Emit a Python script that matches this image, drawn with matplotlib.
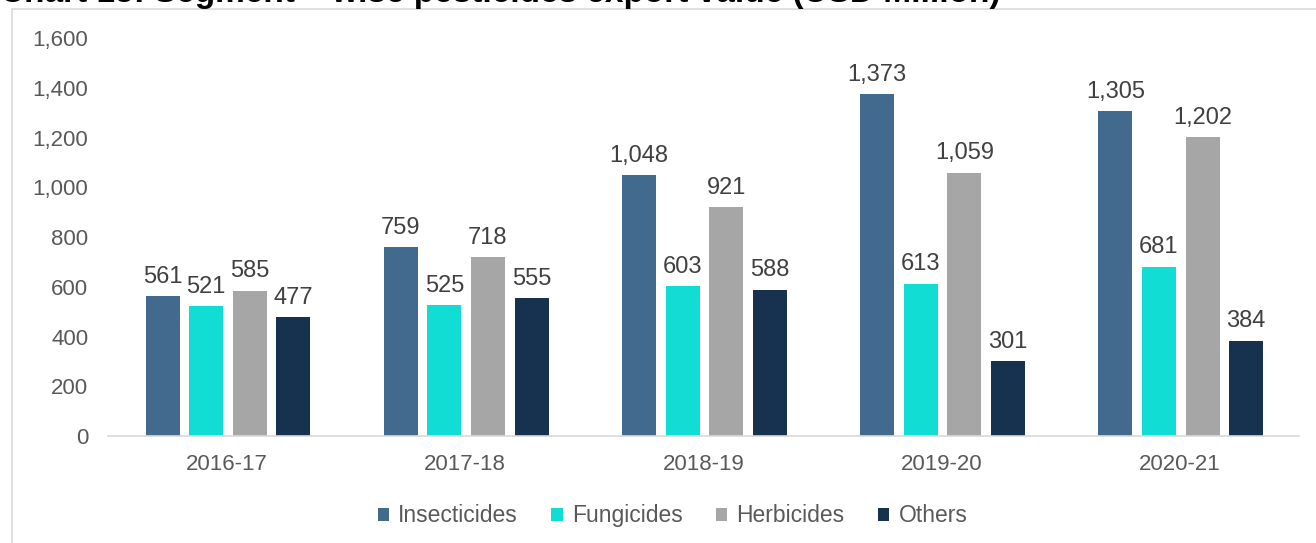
import matplotlib.pyplot as plt
import numpy as np
from matplotlib.patches import Rectangle

plt.rcParams['font.family'] = ['Liberation Sans', 'DejaVu Sans']

years = ["2016-17", "2017-18", "2018-19", "2019-20", "2020-21"]
insecticides = [561, 759, 1048, 1373, 1305]
fungicides = [521, 525, 603, 613, 681]
herbicides = [585, 718, 921, 1059, 1202]
others = [477, 555, 588, 301, 384]

series = [("Insecticides", insecticides, "#416A8E"),
          ("Fungicides", fungicides, "#12DDD4"),
          ("Herbicides", herbicides, "#A6A6A6"),
          ("Others", others, "#17324F")]

fig = plt.figure(figsize=(13.16, 5.43), dpi=100)
ax = fig.add_axes([0.082, 0.197, 0.905, 0.733])

# chart frame
fig.patches.append(Rectangle((12/1316, -0.01), 1.1, 1 - 9/543 + 0.01, transform=fig.transFigure,
                             fill=False, edgecolor="#D9D9D9", linewidth=1.2))

x = np.arange(len(years))
pitch = 0.183
w = 0.143
for i, (name, vals, col) in enumerate(series):
    pos = x + (i - 1.5) * pitch + 0.004
    bars = ax.bar(pos, vals, width=w, color=col, label=name, zorder=2)
    for b, v in zip(bars, vals):
        ax.annotate(f"{v:,}", (b.get_x() + b.get_width() / 2, v), xytext=(0, 6),
                    textcoords="offset points", ha="center", va="bottom",
                    fontsize=17, color="#404040")

ax.set_xlim(-0.5, len(years) - 0.5)
ax.set_ylim(0, 1600)
ax.set_yticks(range(0, 1601, 200))
ax.yaxis.set_major_formatter(plt.FuncFormatter(lambda v, p: f"{int(v):,}"))
ax.set_xticks(x)
ax.set_xticklabels(years)
ax.tick_params(axis="both", length=0, labelsize=16, labelcolor="#595959")
ax.tick_params(axis="y", pad=14)
ax.tick_params(axis="x", pad=13)
for s in ["top", "right", "left"]:
    ax.spines[s].set_visible(False)
ax.spines["bottom"].set_color("#D9D9D9")
ax.spines["bottom"].set_linewidth(1.2)

fig.legend(loc="center", bbox_to_anchor=(0.511, 0.05), ncol=4, frameon=False,
           fontsize=16.5, handlelength=0.5, handleheight=0.5, handletextpad=0.4,
           columnspacing=1.45, labelcolor="#595959")

fig.text(0.0, 1.012, "Chart 15: Segment – wise pesticides export value (USD Million)",
         fontsize=24, fontweight="bold", color="black", ha="left", va="center")

fig.savefig("out.png", dpi=100)
